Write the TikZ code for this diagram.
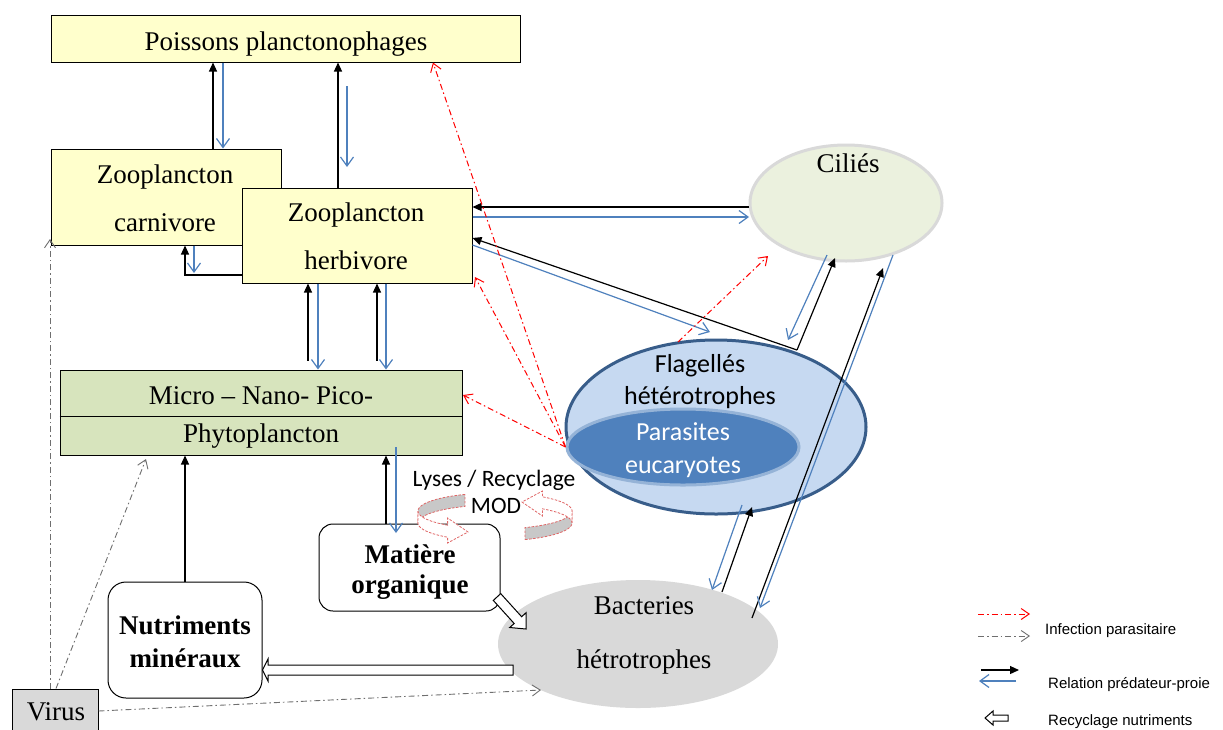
\documentclass[tikz,border=0pt]{standalone}
\usepackage{fontspec}
\setmainfont{Liberation Serif}
\newfontfamily\calib{Carlito}
\newfontfamily\arialf{Liberation Sans}
\usetikzlibrary{arrows.meta,shapes.geometric,calc}
\definecolor{boxyellow}{HTML}{FFFFCC}
\definecolor{boxgreen}{HTML}{D7E4BD}
\definecolor{virgray}{HTML}{D9D9D9}
\definecolor{cilfill}{HTML}{EBF1DE}
\definecolor{cilborder}{HTML}{D9D9D9}
\definecolor{flafill}{HTML}{C6D9F1}
\definecolor{flaborder}{HTML}{385D8A}
\definecolor{parfill}{HTML}{4F81BD}
\definecolor{parborder}{HTML}{95B3D7}
\definecolor{bacfill}{HTML}{D9D9D9}
\definecolor{preyblue}{HTML}{4F81BD}
\definecolor{virline}{HTML}{6F6F6F}
\definecolor{ringred}{HTML}{E06666}
\definecolor{ringgray}{HTML}{C8C8C8}
\tikzset{
  box/.style={draw=black, line width=1pt, inner sep=0pt},
  lbl/.style={anchor=base, inner sep=0pt, font=\fontsize{27}{30}\selectfont},
  lblb/.style={anchor=base, inner sep=0pt, font=\bfseries\fontsize{27}{30}\selectfont},
  lblsans/.style={anchor=base, inner sep=0pt, font=\calib\fontsize{26}{30}\selectfont},
  lgd/.style={anchor=base west, inner sep=0pt, font=\arialf\fontsize{15}{18}\selectfont},
  pred/.style={draw=black, line width=1.2pt, -{Triangle[length=9pt,width=8pt]}},
  prey/.style={draw=preyblue, line width=1.2pt, -{Straight Barb[length=9pt,width=13pt]}},
  infect/.style={draw=red, line width=1pt, dash pattern=on 6pt off 3pt on 1.5pt off 3pt, -{Straight Barb[length=8pt,width=11pt]}},
  viral/.style={draw=virline, line width=0.9pt, dash pattern=on 6pt off 3pt on 1.5pt off 3pt, -{Straight Barb[length=8pt,width=11pt]}},
  hollow/.style={draw=black, line width=1pt, fill=white},
  ringpiece/.style={draw=ringred, line width=0.8pt, dash pattern=on 2.5pt off 1.5pt},
}
\newcommand\ringpart{%
  \filldraw[ringpiece, fill=ringgray] plot[domain=113:182, samples=25] ({495+77*cos(\x)},{511-18*sin(\x)}) -- plot[domain=182:113, samples=25] ({495+77*cos(\x)},{523-18*sin(\x)}) -- cycle;
  \filldraw[ringpiece, fill=white] plot[domain=180:232, samples=25] ({495+77*cos(\x)},{511-18*sin(\x)}) -- (447.6,518) -- (468,532) -- (447.6,543) -- plot[domain=232:180, samples=25] ({495+77*cos(\x)},{523-18*sin(\x)}) -- cycle;
}
\begin{document}
\begin{tikzpicture}[x=1pt,y=-1pt]
\useasboundingbox (0,0) rectangle (1223,729);
\fill[white] (0,0) rectangle (1223,729);

% ---- shapes ----
\node[box, fill=boxyellow, minimum width=469pt, minimum height=47pt] (po) at (285.5,38.5) {};
\node[box, fill=boxyellow, minimum width=230pt, minimum height=96pt] (zc) at (166,197) {};
\node[box, fill=boxyellow, minimum width=230pt, minimum height=95pt] (zh) at (357,235.5) {};
\node[box, fill=boxgreen, minimum width=402pt, minimum height=85pt] (mi) at (261,412.5) {};
\draw[line width=1pt] (mi.west |- 0,416) -- (mi.east |- 0,416);
\node[box, fill=white, rounded corners=14pt, minimum width=181pt, minimum height=87pt] (mo) at (409.5,567.5) {};
\node[box, fill=white, rounded corners=18pt, minimum width=154pt, minimum height=116pt] (nu) at (185,640) {};
\node[box, fill=virgray, minimum width=86pt, minimum height=60pt] (vi) at (55,719) {};

\node[ellipse, draw=cilborder, line width=3pt, fill=cilfill, minimum width=192pt, minimum height=116pt, inner sep=0pt] (ci) at (846,203) {};
\node[ellipse, draw=flaborder, line width=3pt, fill=flafill, minimum width=300pt, minimum height=174pt, inner sep=0pt] (fl) at (716,427) {};
\node[ellipse, draw=parborder, line width=3pt, fill=parfill, minimum width=232pt, minimum height=76pt, inner sep=0pt] (pa) at (683,447) {};
\node[ellipse, fill=bacfill, minimum width=280pt, minimum height=128pt, inner sep=0pt] (ba) at (638,644) {};

% ---- texts ----
\node[lbl] (po-t) at (286,50) {Poissons planctonophages};
\node[lbl] (zc-t1) at (165,183) {Zooplancton};
\node[lbl] (zc-t2) at (165,231) {carnivore};
\node[lbl] (zh-t1) at (356,221) {Zooplancton};
\node[lbl] (zh-t2) at (356,269) {herbivore};
\node[lbl] (mi-t1) at (261,404) {Micro -- Nano- Pico-};
\node[lbl] (mi-t2) at (261,442) {Phytoplancton};
\node[lblb] (mo-t1) at (410,563) {Matière};
\node[lblb] (mo-t2) at (410,593) {organique};
\node[lblb] (nu-t1) at (185,634) {Nutriments};
\node[lblb] (nu-t2) at (185,667) {minéraux};
\node[lbl] (vi-t) at (56,720) {Virus};
\node[lbl] (ci-t) at (848,172) {Ciliés};
\node[lbl] (ba-t1) at (644,614) {Bacteries};
\node[lbl] (ba-t2) at (644,668) {hétrotrophes};
\node[lblsans] (fl-t1) at (700,372) {Flagellés};
\node[lblsans] (fl-t2) at (700,404) {hétérotrophes};
\node[lblsans, text=white] (pa-t1) at (683,440) {Parasites};
\node[lblsans, text=white] (pa-t2) at (683,473) {eucaryotes};

% ---- named points on ellipses ----
\coordinate (ci-a) at (749,207);
\coordinate (ci-b) at (749,217);
\coordinate (ci-c) at (835,258);
\coordinate (ci-d) at (827,255);
\coordinate (ci-e) at (883,268);
\coordinate (ci-f) at (893,255);
\coordinate (ci-g) at (768,256);
\coordinate (fl-a) at (797,350);
\coordinate (fl-b) at (710,332);
\coordinate (fl-c) at (788,340);
\coordinate (fl-d) at (678,342);
\coordinate (fl-e) at (752,507);
\coordinate (fl-f) at (742,505);
\coordinate (ba-a) at (752,618);
\coordinate (ba-b) at (760,608);
\coordinate (ba-c) at (722,592);
\coordinate (ba-d) at (712,590);
\coordinate (ba-e) at (541,690);
\coordinate (zh-x) at (347,86);
\coordinate (zh-y) at (347,167);

% ---- predator/prey links ----
\draw[pred] (213,0 |- zc.north) -- (213,0 |- po.south);
\draw[prey] (223,0 |- po.south) -- (223,0 |- zc.north);
\draw[pred] (338,0 |- zh.north) -- (338,0 |- po.south);
\draw[prey] (zh-x) -- (zh-y);
\draw[pred] (0,275 -| zh.west) -| (185,0 |- zc.south);
\draw[prey] (194,0 |- zc.south) -- (194,273);
\draw[pred] ($(308,0 |- mi.north)+(0,-9)$) -- (308,0 |- zh.south);
\draw[prey] (318,0 |- zh.south) -- (318,0 |- mi.north);
\draw[pred] ($(377,0 |- mi.north)+(0,-9)$) -- (377,0 |- zh.south);
\draw[prey] (386,0 |- zh.south) -- (386,0 |- mi.north);
\draw[pred] (386,0 |- mo.north) -- (386,0 |- mi.south);
\draw[prey] (396,447) -- (396,533);
\draw[pred] (nu.north) -- (185,0 |- mi.south);
\draw[pred] (ci-a) -- (0,207 -| zh.east);
\draw[prey] (0,217 -| zh.east) -- (ci-b);
\draw[pred] (fl-a) -- (0,238 -| zh.east);
\draw[pred] (fl-a) -- (ci-c);
\draw[prey] (0,245 -| zh.east) -- (fl-b);
\draw[prey] (ci-d) -- (fl-c);
\draw[pred] (ba-a) -- (ci-e);
\draw[prey] (ci-f) -- (ba-b);
\draw[pred] (ba-c) -- (fl-e);
\draw[prey] (fl-f) -- (ba-d);

% ---- infections ----
\draw[infect] (pa.west) -- (433,0 |- po.south);
\draw[infect] (pa.west) -- (475,277);
\draw[infect] (pa.west) -- (463,395);
\draw[infect] (fl-d) -- (ci-g);
\draw[viral] (50,0 |- vi.north) -- (50,239);
\draw[viral] (56,0 |- vi.north) -- (146,459);
\draw[viral] (vi.east |- 0,711) -- (ba-e);

% ---- recycling ----
\draw[hollow] (513,665) -- (268,665) -- (268,659) -- (nu.east |- 0,670) -- (268,681) -- (268,675) -- (513,675) -- cycle;
\draw[hollow] (500.7,593.6) -- (521.6,616.7) -- (526.1,612.7) -- (526,629) -- (509.7,627.5) -- (514.2,623.5) -- (493.3,600.4) -- cycle;

\ringpart
\begin{scope}[rotate around={180:(495,517)}]
\ringpart
\end{scope}
\node[anchor=base, inner sep=0pt, font=\calib\fontsize{23.5}{26}\selectfont] (ly-t1) at (494,486) {Lyses / Recyclage};
\node[anchor=base, inner sep=0pt, font=\calib\fontsize{23.5}{26}\selectfont] (ly-t2) at (496,513) {MOD};

% ---- legend ----
\coordinate (lg-a1) at (978,614); \coordinate (lg-a2) at (1030,614);
\coordinate (lg-b1) at (978,636); \coordinate (lg-b2) at (1030,636);
\coordinate (lg-c1) at (981,670); \coordinate (lg-c2) at (1019,670);
\coordinate (lg-d1) at (1016,681); \coordinate (lg-d2) at (979,681);
\draw[infect] (lg-a1) -- (lg-a2);
\draw[viral] (lg-b1) -- (lg-b2);
\draw[pred] (lg-c1) -- (lg-c2);
\draw[prey] (lg-d1) -- (lg-d2);
\draw[hollow] (1008,715) -- (993,715) -- (993,711) -- (985,718) -- (993,725) -- (993,721) -- (1008,721) -- cycle;
\node[lgd] (lg-t1) at (1045,634) {Infection parasitaire};
\node[lgd] (lg-t2) at (1048,688) {Relation prédateur-proie};
\node[lgd] (lg-t3) at (1048,725) {Recyclage nutriments};
\end{tikzpicture}
\end{document}
